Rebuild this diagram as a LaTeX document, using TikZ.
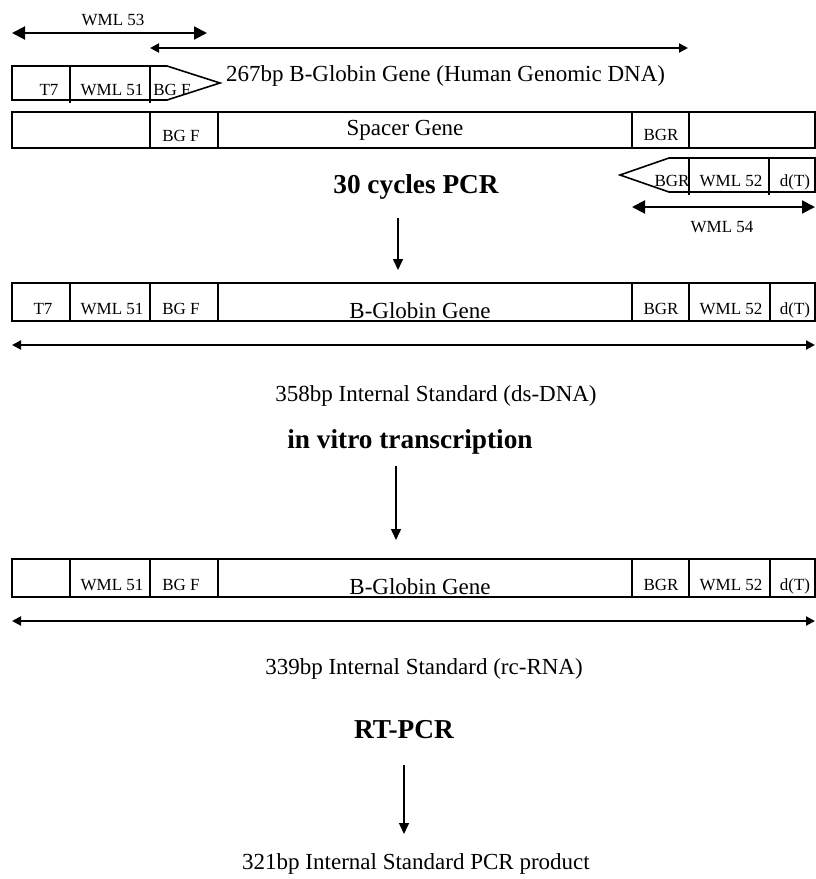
\documentclass[tikz,border=0pt]{standalone}
\usepackage{fontspec}
\setmainfont{Liberation Serif}
\usetikzlibrary{arrows.meta}
\newcommand\segm[5]{\node[segbox, minimum width={#3-#2}, minimum height={#5-#4}] (#1) at ({(#2+#3)/2},{(#4+#5)/2}) {};}
\begin{document}
\begin{tikzpicture}[x=1pt,y=-1pt,
  segbox/.style={draw, line width=1.6pt, rectangle, inner sep=0pt, outer sep=0pt},
  box/.style={draw, line width=1.6pt, line join=miter},
  small/.style={font=\fontsize{17}{17}\selectfont, inner sep=0pt, anchor=base},
  med/.style={font=\fontsize{23}{23}\selectfont, inner sep=0pt, anchor=base},
  boldtxt/.style={font=\fontsize{27.3}{27}\selectfont\bfseries, inner sep=0pt, anchor=base},
  bigdbl/.style={line width=2pt, {Triangle[length=13pt,width=13pt]}-{Triangle[length=13pt,width=13pt]}},
  dbl/.style={line width=2pt, {Triangle[length=9pt,width=9pt]}-{Triangle[length=9pt,width=9pt]}},
  down/.style={line width=1.5pt, -{Triangle[length=11pt,width=10pt]}},
]
\useasboundingbox (0,0) rectangle (816,879);

% ---- top arrows ----
\coordinate (w53a) at (12,33);
\coordinate (w53b) at (207,33);
\draw[bigdbl] (w53a) -- (w53b);
\node[small] (lw53) at (113,25) {WML 53};
\coordinate (g267a) at (150,48);
\coordinate (g267b) at (688,48);
\draw[dbl] (g267a) -- (g267b);
\node[med, anchor=base west] (l267) at (226,81) {267bp B-Globin Gene (Human Genomic DNA)};

% ---- forward primer ----
\segm{pf1}{12}{70}{66}{100}
\segm{pf2}{70}{150}{66}{100}
\draw[box] (pf2.north east) -- (167,66) -- (220,83) -- (167,100) -- (pf2.south east);
\draw[box] (pf1.south east) -- ++(0,3);
\draw[box] (pf2.south east) -- ++(0,3);
\node[small] (lpfT7) at (49,95) {T7};
\node[small] (lpfW) at (112,95) {WML 51};
\node[small] (lpfB) at (172,95) {BG F};

% ---- spacer row ----
\segm{s1}{12}{150}{112}{148}
\segm{s2}{150}{218}{112}{148}
\segm{s3}{218}{632}{112}{148}
\segm{s4}{632}{689}{112}{148}
\segm{s5}{689}{815}{112}{148}
\node[small] (ls2) at (181,141) {BG F};
\node[med] (ls3) at (405,135) {Spacer Gene};
\node[small] (ls4) at (661,140) {BGR};

% ---- reverse primer ----
\segm{pr2}{689}{769}{158}{192}
\segm{pr3}{769}{815}{158}{192}
\draw[box] (pr2.north west) -- (669,158) -- (620,175) -- (669,192) -- (pr2.south west);
\draw[box] (pr2.south west) -- ++(0,3);
\draw[box] (pr3.south west) -- ++(0,3);
\node[small] (lprB) at (672,186) {BGR};
\node[small] (lprW) at (731,186) {WML 52};
\node[small] (lprD) at (795,186) {d(T)};
\coordinate (w54a) at (632,207);
\coordinate (w54b) at (815,207);
\draw[bigdbl] (w54a) -- (w54b);
\node[small] (lw54) at (722,232) {WML 54};

% ---- step 1 ----
\node[boldtxt] (st1) at (416,193) {30 cycles PCR};
\coordinate (a1s) at (398,218);
\coordinate (a1e) at (398,270);
\draw[down] (a1s) -- (a1e);

% ---- ds-DNA row ----
\segm{d1}{12}{70}{283}{321}
\segm{d2}{70}{150}{283}{321}
\segm{d3}{150}{218}{283}{321}
\segm{d4}{218}{632}{283}{321}
\segm{d5}{632}{689}{283}{321}
\segm{d6}{689}{770}{283}{321}
\segm{d7}{770}{815}{283}{321}
\node[small] (ld1) at (43,314) {T7};
\node[small] (ld2) at (112,314) {WML 51};
\node[small] (ld3) at (181,314) {BG F};
\node[med] (ld4) at (420,318) {B-Globin Gene};
\node[small] (ld5) at (661,314) {BGR};
\node[small] (ld6) at (731,314) {WML 52};
\node[small] (ld7) at (795,314) {d(T)};
\coordinate (dsa) at (12,345);
\coordinate (dsb) at (815,345);
\draw[dbl] (dsa) -- (dsb);
\node[med] (lds) at (436,401) {358bp Internal Standard (ds-DNA)};

% ---- step 2 ----
\node[boldtxt] (st2) at (410,448) {in vitro transcription};
\coordinate (a2s) at (396,466);
\coordinate (a2e) at (396,540);
\draw[down] (a2s) -- (a2e);

% ---- rc-RNA row ----
\segm{r1}{12}{70}{559}{597}
\segm{r2}{70}{150}{559}{597}
\segm{r3}{150}{218}{559}{597}
\segm{r4}{218}{632}{559}{597}
\segm{r5}{632}{689}{559}{597}
\segm{r6}{689}{770}{559}{597}
\segm{r7}{770}{815}{559}{597}
\node[small] (lr2) at (112,590) {WML 51};
\node[small] (lr3) at (181,590) {BG F};
\node[med] (lr4) at (420,594) {B-Globin Gene};
\node[small] (lr5) at (661,590) {BGR};
\node[small] (lr6) at (731,590) {WML 52};
\node[small] (lr7) at (795,590) {d(T)};
\coordinate (rca) at (12,621);
\coordinate (rcb) at (815,621);
\draw[dbl] (rca) -- (rcb);
\node[med] (lrc) at (424,674) {339bp Internal Standard (rc-RNA)};

% ---- step 3 ----
\node[boldtxt] (st3) at (404,738) {RT-PCR};
\coordinate (a3s) at (404,765);
\coordinate (a3e) at (404,834);
\draw[down] (a3s) -- (a3e);
\node[med] (lfin) at (416,869) {321bp Internal Standard PCR product};
\end{tikzpicture}
\end{document}
